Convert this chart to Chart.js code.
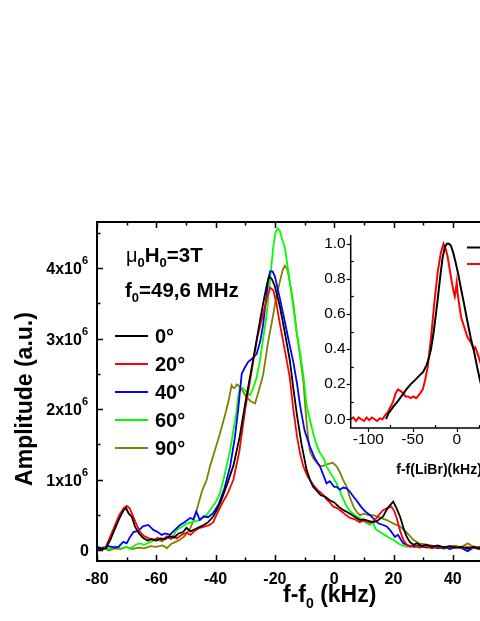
<!DOCTYPE html>
<html>
<head>
<meta charset="utf-8">
<script src="https://cdn.jsdelivr.net/npm/chart.js@4.4.0/dist/chart.umd.min.js"></script>
<style>
html, body { margin: 0; padding: 0; background: #fff; overflow: hidden; width: 480px; height: 621px; }
#wrap { position: relative; width: 600px; height: 621px; }
canvas { position: absolute; left: 0; top: 0; }
</style>
</head>
<body>
<div id="wrap">
  <canvas id="main" width="600" height="621"></canvas>
  <canvas id="inset" width="600" height="621"></canvas>
</div>
<script>
// Main spectra: f - f0 (kHz) and amplitude (units of 10^6 a.u.)
var freq_0deg = [-80,-78,-77,-75.5,-74,-72.5,-71,-70.2,-69.3,-68.3,-67.2,-66,-64.5,-63,-61.5,-60,-58.5,-57,-55.5,-54,-52.5,-51,-49.8,-48.5,-47,-45.5,-44,-42.5,-40.8,-39.5,-38,-36,-34,-32,-30,-28,-26.5,-25,-23.5,-22.5,-21.9,-21,-20,-18.3,-16.5,-15,-13.8,-12.5,-11,-9.3,-8,-7.1,-6,-4.5,-3,-1.5,0,1.5,3.1,4.5,6,7.5,8.7,10,11.5,13,14.3,15.5,16.5,18,19.9,21,22.2,23.5,24.5,25.5,26.7,28,29.5,31,33,35,37,39,41,43,45,47,49,52,56,60];
var amp_0deg  = [0.03,0.02,0.03,0.15,0.3,0.45,0.57,0.6,0.52,0.48,0.34,0.25,0.18,0.14,0.16,0.14,0.17,0.16,0.2,0.18,0.24,0.26,0.32,0.27,0.3,0.33,0.36,0.4,0.48,0.58,0.72,0.95,1.2,1.58,2.08,2.55,2.9,3.26,3.6,3.8,3.88,3.84,3.74,3.45,3.05,2.7,2.3,1.9,1.5,1.14,0.98,0.9,0.85,0.78,0.76,0.71,0.68,0.62,0.57,0.54,0.5,0.46,0.43,0.44,0.42,0.4,0.41,0.45,0.48,0.6,0.69,0.6,0.48,0.3,0.19,0.12,0.08,0.1,0.06,0.08,0.05,0.07,0.04,0.06,0.04,0.05,0.03,0.05,0.03,0.04,0.03,0.04];

var freq_20deg = [-80,-78,-77,-75.5,-74,-72.5,-71,-70,-69,-68,-67,-65.5,-64,-62.5,-61,-59.5,-58,-56.5,-55,-54.3,-53,-51.5,-49.8,-48.5,-47,-45.3,-43.5,-42,-40.8,-39.5,-38,-36,-34,-32,-30,-28,-26,-24,-22.5,-21.6,-20.5,-19.5,-18.3,-16.5,-15,-13.8,-12.5,-11.4,-10.4,-9,-7.1,-5.5,-4,-2.5,-1.5,-0.3,1,2.5,4,5.3,7,8.5,10,12.1,13.5,15,16.5,18,19.3,20.2,21.1,22.2,23.3,24.5,25.6,27,29,31,33,35,37,39,41,43,45,47,49,52,56,60];
var amp_20deg  = [0,0.02,0.05,0.2,0.35,0.5,0.6,0.63,0.6,0.5,0.4,0.26,0.2,0.17,0.15,0.18,0.14,0.2,0.16,0.2,0.17,0.22,0.25,0.22,0.28,0.32,0.34,0.36,0.4,0.52,0.65,0.8,1.0,1.4,2.0,2.5,3.0,3.35,3.6,3.72,3.68,3.5,3.2,2.8,2.45,2.0,1.6,1.35,1.19,1.05,0.93,0.85,0.8,0.72,0.68,0.62,0.6,0.55,0.5,0.46,0.44,0.4,0.42,0.39,0.42,0.5,0.57,0.6,0.62,0.56,0.46,0.28,0.15,0.08,0.05,0.07,0.04,0.06,0.03,0.06,0.03,0.05,0.06,0.03,0.05,0.03,0.05,0.04,0.05,0.04];

var freq_40deg = [-80,-78,-76,-74,-72.8,-71.1,-70,-69,-67.7,-66,-64.5,-62.7,-61,-59.5,-58.2,-57,-55.4,-54,-52,-50.5,-48.6,-47.5,-46.5,-45.3,-44,-42.5,-40.8,-39,-37,-35.1,-33.5,-32.4,-31.2,-30,-29,-27.5,-26.2,-25,-24,-23,-22.2,-21.6,-20.8,-20,-18.5,-17.1,-15.5,-13.8,-12.5,-11.5,-10,-8.2,-6.5,-4.8,-3.5,-2.6,-1.5,0,0.8,2,3,4.2,5.5,6.5,7.5,9,10.5,12.1,13.5,15,16.5,17.7,19,20.5,21.5,22.5,23.3,25,27,29,31,33,35,37,39,41,43,45,47,49,52,56,60];
var amp_40deg  = [0.05,0.03,0.06,0.04,0.05,0.12,0.1,0.18,0.26,0.28,0.34,0.36,0.29,0.26,0.22,0.24,0.22,0.28,0.36,0.4,0.46,0.44,0.55,0.43,0.48,0.47,0.53,0.65,0.88,1.19,1.6,1.99,2.5,2.6,2.67,2.72,2.78,2.95,3.19,3.55,3.85,3.95,3.95,3.88,3.6,3.33,3.0,2.67,2.35,2.05,1.7,1.47,1.3,1.19,1.05,0.95,0.98,0.9,0.9,0.86,0.89,0.88,0.82,0.76,0.71,0.62,0.55,0.5,0.44,0.38,0.36,0.34,0.28,0.19,0.22,0.15,0.1,0.07,0.05,0.07,0.04,0.06,0.03,0.05,0.02,0.05,0.03,-0.01,0.04,0.02,0.04,0.03,0.03];

var freq_60deg = [-80,-78,-76,-74,-72,-70,-68.9,-67,-65.5,-64,-62,-60,-58,-56.5,-55.4,-54,-53.1,-51.5,-49.8,-48,-46,-44.2,-43,-41.9,-40,-38.5,-36.8,-35.1,-33.8,-32.9,-32.3,-31.8,-31,-30.1,-29,-28.4,-27.3,-26.2,-25,-23.8,-22.8,-21.7,-20.6,-19.8,-19,-18.3,-17.5,-16.6,-15,-13.8,-12.7,-11.5,-10.4,-9.3,-8.2,-7.1,-6,-4.8,-3.5,-2.6,-1,0.8,2.5,4.2,5.5,7.5,9,10.5,12.1,13,14,15.4,17,18.5,19.9,21.5,23,24.5,26.5,28.5,30.5,33,35,37,39,41,43,45,47,49,52,56,60];
var amp_60deg  = [0,0.05,0.02,0.06,0.03,0.05,0.02,0.08,0.1,0.08,0.12,0.15,0.13,0.18,0.17,0.22,0.29,0.33,0.38,0.4,0.42,0.48,0.5,0.57,0.68,0.81,1.1,1.42,1.75,1.98,2.2,2.3,2.3,2.27,2.22,2.2,2.3,2.44,2.7,3.05,3.33,3.8,4.28,4.5,4.56,4.52,4.4,4.28,3.81,3.45,3.1,2.8,2.48,2.05,1.85,1.66,1.5,1.38,1.3,1.19,1.08,0.95,0.78,0.62,0.55,0.48,0.45,0.4,0.36,0.4,0.3,0.26,0.22,0.18,0.15,0.1,0.07,0.05,0.06,0.04,0.05,0.03,0.05,0.02,0.05,0.03,0.05,0.02,0.04,0.05,0.03,0.05,0.04];

var freq_90deg = [-80,-78,-76,-74,-72,-70,-68,-66,-64,-62,-60,-58,-57,-56.5,-55,-53.5,-52,-50.5,-48.6,-47.5,-46.4,-44.5,-43,-41.9,-40,-38.5,-36.8,-35.7,-34.6,-34,-33.5,-32.9,-32.4,-31.2,-30.1,-28.4,-26.7,-25.5,-24,-22.3,-20.6,-19.5,-18.3,-17.3,-16.6,-15.8,-15,-13.8,-12.7,-11.5,-10.4,-9.5,-8.8,-8.2,-7,-5.5,-4.8,-3.5,-2.5,-1.5,-0.5,0.8,2,3,4.2,5.3,6.5,7.5,8.7,10,11.5,13.2,15,17.7,20,22.2,24.5,26.7,28.5,31.2,34,37,40,43,45.1,46.5,48,50,55,60];
var amp_90deg  = [0.02,0.04,0,0.03,0.02,0.05,0.02,0.04,0.03,0.06,0.05,0.07,0.05,0.03,0.09,0.12,0.15,0.2,0.31,0.42,0.57,0.85,1.0,1.19,1.45,1.66,1.92,2.1,2.34,2.3,2.3,2.35,2.34,2.28,2.2,2.12,2.08,2.25,2.48,2.95,3.33,3.6,3.81,3.98,4.03,3.98,3.81,3.5,3.1,2.75,2.39,1.9,1.6,1.4,1.3,1.22,1.19,1.2,1.22,1.23,1.24,1.19,1.1,1.0,0.9,0.75,0.62,0.55,0.5,0.52,0.5,0.5,0.47,0.43,0.38,0.34,0.25,0.15,0.1,0.08,0.06,0.05,0.06,0.05,0.1,0.06,0.05,0.05,0.04,0.04];

var angleLabels = ['0°', '20°', '40°', '60°', '90°'];
var angleColors = ['#000000', '#ff0000', '#0000ff', '#00ff00', '#808000'];
var freqs = [freq_0deg, freq_20deg, freq_40deg, freq_60deg, freq_90deg];
var amps = [amp_0deg, amp_20deg, amp_40deg, amp_60deg, amp_90deg];

var xTicks = [-80, -60, -40, -20, 0, 20, 40, 60, 80];
var yTicks = [0, 1, 2, 3, 4];

// Inset: normalised spectra vs f - f(LiBr) (kHz)
var insetFreqA = [-80,-77.6,-72,-67,-62.7,-57,-52,-47.8,-42,-38,-34,-31.5,-29.1,-26,-23.5,-21.6,-18.5,-16,-13.5,-11.2,-8.8,-6.7,-4,-1.1,2,5,8.2,12,16,19.4,23,26.9,31,36,42,50,60,70];
var insetAmpA  = [0,0.03,0.07,0.1,0.13,0.17,0.2,0.22,0.25,0.27,0.31,0.35,0.4,0.5,0.6,0.68,0.82,0.92,0.98,1.0,1.0,0.99,0.95,0.89,0.82,0.74,0.66,0.56,0.46,0.39,0.3,0.21,0.15,0.1,0.06,0.03,0.02,0.01];
var insetFreqB = [-120,-117,-114,-111,-108,-105,-102,-99,-96,-93,-90,-87,-84,-81.4,-78,-75,-72,-69,-66.4,-63.5,-60.8,-58,-55.2,-52,-49,-46,-44,-41,-38.4,-35.5,-32.8,-29,-25.4,-21.5,-17.9,-14.9,-12.5,-10.4,-7.5,-4.8,-3.2,-2.2,-1,0,1,2.6,5,8.2,12,15.7,19.4,21,23.2,27,31,35,40,45,52,60,70];
var insetAmpB  = [0,0.01,-0.01,0.01,0,-0.01,0.01,-0.005,0.01,0,-0.01,0.005,0,0.02,0.04,0.07,0.1,0.15,0.17,0.16,0.15,0.13,0.13,0.12,0.13,0.12,0.13,0.15,0.17,0.23,0.3,0.47,0.66,0.84,0.95,1.0,0.97,0.93,0.84,0.76,0.72,0.7,0.74,0.78,0.72,0.66,0.58,0.53,0.47,0.44,0.4,0.41,0.38,0.32,0.24,0.16,0.1,0.06,0.03,0.02,0.01];
var insetColors = ['#000000', '#ff0000'];
var insetXTicks = [-100, -50, 0, 50];
var insetYTicks = [0, 0.2, 0.4, 0.6, 0.8, 1.0];

var FONT = 'Arial, "Liberation Sans", sans-serif';

function pts(xs, ys) {
  return xs.map(function (v, i) { return { x: v, y: ys[i] }; });
}

// draws a run of text pieces (for sub/superscripts)
function richText(ctx, parts, x, y, align) {
  var w = 0;
  parts.forEach(function (p) { ctx.font = p.font; w += ctx.measureText(p.t).width; });
  var cx = align === 'right' ? x - w : (align === 'center' ? x - w / 2 : x);
  ctx.textAlign = 'left';
  ctx.textBaseline = 'alphabetic';
  parts.forEach(function (p) {
    ctx.font = p.font;
    ctx.fillText(p.t, cx, y + (p.dy || 0));
    cx += ctx.measureText(p.t).width;
  });
}

var mainDeco = {
  id: 'mainDeco',
  afterDraw: function (chart) {
    var ctx = chart.ctx, a = chart.chartArea, sx = chart.scales.x, sy = chart.scales.y;
    ctx.save();
    ctx.strokeStyle = '#000';
    ctx.fillStyle = '#000';
    ctx.lineWidth = 2;
    ctx.strokeRect(a.left, a.top, a.right - a.left, a.bottom - a.top);

    // x ticks (inward), minor every 10
    ctx.lineWidth = 1.5;
    for (var v = -80; v <= 80; v += 10) {
      var px = Math.round(sx.getPixelForValue(v)) + 0.5;
      var len = (v % 20 === 0) ? 6 : 3.5;
      ctx.beginPath();
      ctx.moveTo(px, a.bottom); ctx.lineTo(px, a.bottom - len);
      ctx.moveTo(px, a.top); ctx.lineTo(px, a.top + len);
      ctx.stroke();
    }
    // y ticks, minor every 0.5
    for (var k = 0; k <= 9; k++) {
      var py = Math.round(sy.getPixelForValue(k * 0.5)) + 0.5;
      var l2 = (k % 2 === 0) ? 6 : 3.5;
      ctx.beginPath();
      ctx.moveTo(a.left, py); ctx.lineTo(a.left + l2, py);
      ctx.moveTo(a.right, py); ctx.lineTo(a.right - l2, py);
      ctx.stroke();
    }

    // tick labels
    ctx.font = 'bold 16px ' + FONT;
    ctx.textAlign = 'center';
    ctx.textBaseline = 'alphabetic';
    xTicks.forEach(function (t) {
      ctx.fillText(String(t), sx.getPixelForValue(t), 583.5);
    });
    yTicks.forEach(function (t) {
      var py = sy.getPixelForValue(t);
      if (t === 0) {
        richText(ctx, [{ t: '0', font: 'bold 16px ' + FONT }], 89, py + 6, 'right');
      } else {
        richText(ctx, [
          { t: t + 'x10', font: 'bold 16px ' + FONT },
          { t: '6', font: 'bold 11px ' + FONT, dy: -10 }
        ], 88, py + 6, 'right');
      }
    });

    // axis titles
    richText(ctx, [
      { t: 'f-f', font: 'bold 23px ' + FONT },
      { t: '0', font: 'bold 14px ' + FONT, dy: 6 },
      { t: ' (kHz)', font: 'bold 23px ' + FONT }
    ], 283, 602, 'left');
    ctx.save();
    ctx.translate(32, 399);
    ctx.rotate(-Math.PI / 2);
    ctx.font = 'bold 23px ' + FONT;
    ctx.textAlign = 'center';
    ctx.textBaseline = 'alphabetic';
    ctx.fillText('Amplitude (a.u.)', 0, 0);
    ctx.restore();

    // annotations
    var B = 'bold 20.5px ' + FONT;
    var S = 'bold 13px ' + FONT;
    richText(ctx, [
      { t: 'μ', font: '20px ' + FONT },
      { t: '0', font: S, dy: 5 },
      { t: 'H', font: B },
      { t: '0', font: S, dy: 5 },
      { t: '=3T', font: B }
    ], 126, 262, 'left');
    richText(ctx, [
      { t: 'f', font: B },
      { t: '0', font: S, dy: 5 },
      { t: '=49,6 MHz', font: B }
    ], 125, 297, 'left');

    // legend
    chart.data.datasets.forEach(function (ds, i) {
      var ly = 336 + i * 28;
      ctx.strokeStyle = ds.borderColor;
      ctx.lineWidth = 2;
      ctx.beginPath();
      ctx.moveTo(115, ly); ctx.lineTo(148, ly);
      ctx.stroke();
      ctx.font = 'bold 20px ' + FONT;
      ctx.textAlign = 'left';
      ctx.textBaseline = 'middle';
      ctx.fillStyle = '#000';
      ctx.fillText(ds.label, 155, ly + 1);
    });
    ctx.restore();
  }
};

var insetDeco = {
  id: 'insetDeco',
  afterDraw: function (chart) {
    var ctx = chart.ctx, a = chart.chartArea, sx = chart.scales.x, sy = chart.scales.y;
    ctx.save();
    ctx.strokeStyle = '#000';
    ctx.fillStyle = '#000';
    ctx.lineWidth = 1.5;
    ctx.beginPath();
    ctx.moveTo(a.left, a.top); ctx.lineTo(a.left, a.bottom); ctx.lineTo(a.right, a.bottom);
    ctx.stroke();

    ctx.lineWidth = 1.2;
    for (var v = -100; v <= 75; v += 25) {
      var px = Math.round(sx.getPixelForValue(v)) + 0.5;
      ctx.beginPath();
      if (v % 50 === 0) { ctx.moveTo(px, a.bottom); ctx.lineTo(px, a.bottom + 4); }
      else { ctx.moveTo(px, a.bottom); ctx.lineTo(px, a.bottom - 3); }
      ctx.stroke();
    }
    for (var k = 0; k <= 10; k++) {
      var py = Math.round(sy.getPixelForValue(k / 10)) + 0.5;
      ctx.beginPath();
      if (k % 2 === 0) { ctx.moveTo(a.left, py); ctx.lineTo(a.left - 4, py); }
      else { ctx.moveTo(a.left, py); ctx.lineTo(a.left + 3, py); }
      ctx.stroke();
    }

    ctx.font = '15.5px ' + FONT;
    ctx.textAlign = 'right';
    ctx.textBaseline = 'middle';
    insetYTicks.forEach(function (t) {
      ctx.fillText(t.toFixed(1), a.left - 5, sy.getPixelForValue(t));
    });
    ctx.textAlign = 'center';
    insetXTicks.forEach(function (t) {
      ctx.fillText(String(t), sx.getPixelForValue(t), 440);
    });
    ctx.font = 'bold 14px ' + FONT;
    ctx.fillText('f-f(LiBr)(kHz)', (a.left + a.right) / 2, 470);

    // legend lines
    chart.data.datasets.forEach(function (ds, i) {
      var ly = 247.5 + i * 16.5;
      ctx.strokeStyle = ds.borderColor;
      ctx.lineWidth = 2;
      ctx.beginPath();
      ctx.moveTo(467, ly); ctx.lineTo(497, ly);
      ctx.stroke();
    });
    ctx.restore();
  }
};

new Chart(document.getElementById('main'), {
  type: 'line',
  data: {
    datasets: angleLabels.map(function (lab, i) {
      return {
        label: lab,
        data: pts(freqs[i], amps[i]),
        borderColor: angleColors[i],
        borderWidth: 1.8,
        pointRadius: 0,
        tension: 0,
        fill: false
      };
    })
  },
  options: {
    responsive: false,
    animation: false,
    devicePixelRatio: 1,
    layout: { padding: { left: 0, top: 222, right: 28.6, bottom: 0 } },
    plugins: { legend: { display: false }, tooltip: { enabled: false } },
    scales: {
      x: {
        type: 'linear', min: -80, max: 80,
        ticks: { display: false }, grid: { display: false }, border: { display: false },
        afterFit: function (s) { s.height = 60; }
      },
      y: {
        type: 'linear', min: -0.15, max: 4.65,
        ticks: { display: false }, grid: { display: false }, border: { display: false },
        afterFit: function (s) { s.width = 97; }
      }
    }
  },
  plugins: [mainDeco]
});

new Chart(document.getElementById('inset'), {
  type: 'line',
  data: {
    datasets: [
      { label: 'A', data: pts(insetFreqA, insetAmpA), borderColor: insetColors[0], borderWidth: 2, pointRadius: 0, tension: 0, fill: false },
      { label: 'B', data: pts(insetFreqB, insetAmpB), borderColor: insetColors[1], borderWidth: 2, pointRadius: 0, tension: 0, fill: false }
    ]
  },
  options: {
    responsive: false,
    animation: false,
    devicePixelRatio: 1,
    layout: { padding: { left: 350.7, top: 235, right: 72.6, bottom: 193 } },
    plugins: { legend: { display: false }, tooltip: { enabled: false } },
    scales: {
      x: {
        type: 'linear', min: -120, max: 80,
        ticks: { display: false }, grid: { display: false }, border: { display: false },
        afterFit: function (s) { s.height = 0; }
      },
      y: {
        type: 'linear', min: -0.05, max: 1.05,
        ticks: { display: false }, grid: { display: false }, border: { display: false },
        afterFit: function (s) { s.width = 0; }
      }
    }
  },
  plugins: [insetDeco]
});
</script>
</body>
</html>
